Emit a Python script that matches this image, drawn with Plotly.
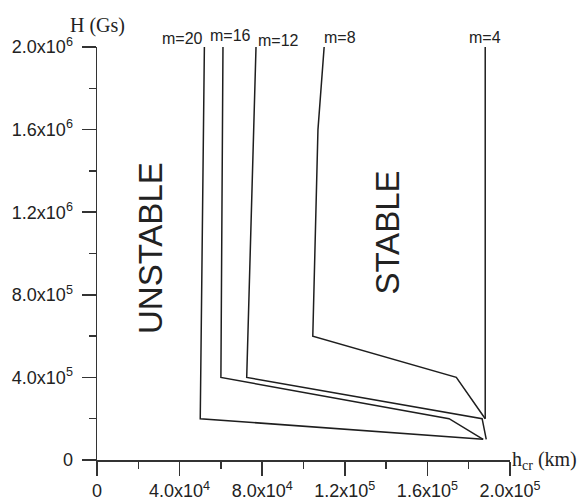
import plotly.graph_objects as go

# ---- data ----
m_labels = ["m=4", "m=8", "m=12", "m=16", "m=20"]
m4_x = [188000, 188000]
m4_y = [2.0e6, 2.0e5]
m8_x = [110000, 107000, 104500, 174000, 188000]
m8_y = [2.0e6, 1.6e6, 6.0e5, 4.0e5, 2.0e5]
m12_x = [77000, 72500, 186500, 188500]
m12_y = [2.0e6, 4.0e5, 2.0e5, 1.0e5]
m16_x = [61000, 60000, 170500, 187000]
m16_y = [2.0e6, 4.0e5, 2.0e5, 1.0e5]
m20_x = [52000, 50000, 187000]
m20_y = [2.0e6, 2.0e5, 1.0e5]

# label anchor positions (x in data units) and vertical offsets above the plot
label_x = [187900, 117600, 88100, 64500, 41200]
label_shift = [9.5, 9.5, 7, 12, 9]

x_tickvals = [0, 40000, 80000, 120000, 160000, 200000]
x_ticktext = ["0", "4.0x10<sup>4</sup>", "8.0x10<sup>4</sup>", "1.2x10<sup>5</sup>",
              "1.6x10<sup>5</sup>", "2.0x10<sup>5</sup>"]
x_minor = [20000, 60000, 100000, 140000, 180000]
y_tickvals = [0, 4e5, 8e5, 1.2e6, 1.6e6, 2.0e6]
y_ticktext = ["0", "4.0x10<sup>5</sup>", "8.0x10<sup>5</sup>", "1.2x10<sup>6</sup>",
              "1.6x10<sup>6</sup>", "2.0x10<sup>6</sup>"]
y_minor = [2e5, 6e5, 1.0e6, 1.4e6, 1.8e6]

LINE = "#1e1e1e"
SANS = "Liberation Sans, Arial, sans-serif"
SERIF = "Liberation Serif, Times New Roman, serif"

fig = go.Figure()
for xs, ys, name in [(m4_x, m4_y, "m=4"), (m8_x, m8_y, "m=8"), (m12_x, m12_y, "m=12"),
                     (m16_x, m16_y, "m=16"), (m20_x, m20_y, "m=20")]:
    fig.add_trace(go.Scatter(x=xs, y=ys, mode="lines", name=name,
                             line=dict(color=LINE, width=1.5), showlegend=False,
                             cliponaxis=False, hoverinfo="skip"))

axis_common = dict(showgrid=False, zeroline=False, showline=True, linecolor="#333",
                   linewidth=1.5, ticks="outside", ticklen=14, tickwidth=1.5,
                   tickcolor="#333", tickmode="array", automargin=False,
                   tickfont=dict(family=SANS, size=18, color="#222"))

fig.update_xaxes(range=[0, 200000], tickvals=x_tickvals, ticktext=x_ticktext,
                 ticklabelstandoff=0,
                 minor=dict(ticks="outside", ticklen=7, tickwidth=1.5, tickcolor="#333",
                            tickmode="array", tickvals=x_minor),
                 **axis_common)
fig.update_yaxes(range=[0, 2.0e6], tickvals=y_tickvals, ticktext=y_ticktext,
                 ticklabelstandoff=5,
                 minor=dict(ticks="outside", ticklen=7, tickwidth=1.5, tickcolor="#333",
                            tickmode="array", tickvals=y_minor),
                 **axis_common)

annotations = []
for lab, lx, sh in zip(m_labels, label_x, label_shift):
    annotations.append(dict(text=lab, x=lx, xref="x", y=1, yref="paper",
                            yanchor="middle", yshift=sh, showarrow=False,
                            font=dict(family=SANS, size=16, color="#222")))
annotations.append(dict(text="H (Gs)", x=0, xref="paper", y=1, yref="paper",
                        xanchor="center", yanchor="middle", yshift=22, showarrow=False,
                        font=dict(family=SERIF, size=20, color="#222")))
annotations.append(dict(text="h<sub>cr</sub> (km)", x=1, xref="paper", y=0, yref="paper",
                        xanchor="left", yanchor="middle", xshift=0, showarrow=False,
                        font=dict(family=SERIF, size=20, color="#222")))
annotations.append(dict(text="UNSTABLE", x=26200, y=1.027e6, xref="x", yref="y",
                        textangle=-90, showarrow=False,
                        font=dict(family=SANS, size=33, color="#222")))
annotations.append(dict(text="STABLE", x=140800, y=1.1e6, xref="x", yref="y",
                        textangle=-90, showarrow=False,
                        font=dict(family=SANS, size=33, color="#222")))

fig.update_layout(width=587, height=502, margin=dict(l=97, r=77, t=47, b=42),
                  template="none", plot_bgcolor="white", paper_bgcolor="white",
                  annotations=annotations, showlegend=False, hovermode=False)

fig.write_html("out.html", config={"displayModeBar": False, "staticPlot": True},
               post_script="document.body.style.margin='0';document.body.style.overflow='hidden';")
